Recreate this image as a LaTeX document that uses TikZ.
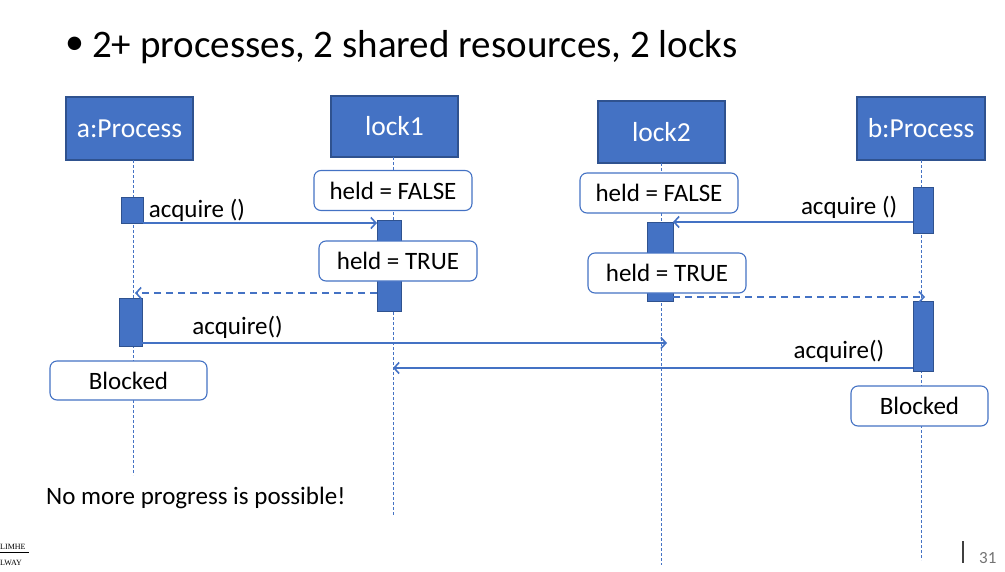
\documentclass[tikz,border=0pt]{standalone}
\usepackage{fontspec}
\setmainfont{Carlito}
\newfontfamily\logofont{Liberation Serif}
\usetikzlibrary{arrows.meta}
\definecolor{bblue}{HTML}{4472C4}
\definecolor{dblue}{HTML}{2F528F}
\begin{document}
\begin{tikzpicture}[x=1pt,y=-1pt,
  head/.style={draw=dblue,fill=bblue,line width=1.2pt,inner sep=0pt,outer sep=0pt,text=white,font=\fontsize{27.5}{32}\selectfont},
  actbox/.style={draw=dblue,fill=bblue,line width=1pt,inner sep=0pt,outer sep=0pt},
  statebox/.style={draw=bblue,fill=white,rounded corners=7pt,line width=1.1pt,inner sep=0pt,outer sep=0pt,minimum width=158pt,minimum height=40pt,font=\fontsize{25}{29}\selectfont},
  lifeline/.style={draw=bblue,line width=1pt,dash pattern=on 3pt off 2pt},
  msg/.style={draw=bblue,line width=1.6pt,-{Straight Barb[length=5pt,width=11pt,line width=1.6pt]}},
  ret/.style={msg,dash pattern=on 7pt off 5pt},
  lbl/.style={font=\fontsize{25}{29}\selectfont,inner sep=0pt}]
\useasboundingbox (0,0) rectangle (1005,571);
% title
\node[anchor=base west,inner sep=0pt,font=\fontsize{39}{44}\selectfont] (title) at (65,57) {\makebox[27pt][l]{\fontsize{38}{38}\selectfont\raisebox{3pt}{\textbullet}}2+ processes, 2 shared resources, 2 locks};
% heads
\node[head,minimum width=127pt,minimum height=63pt] (pa) at (129.5,128.5) {a:Process};
\node[head,minimum width=127pt,minimum height=61pt] (l1) at (394.5,126.5) {lock1};
\node[head,minimum width=127pt,minimum height=62pt] (l2) at (661.5,132) {lock2};
\node[head,minimum width=128pt,minimum height=63pt] (pb) at (921,128.5) {b:Process};
% lifeline ends
\coordinate (ea) at (133,475);
\coordinate (e1) at (393,515);
\coordinate (e2) at (661,565);
\coordinate (eb) at (921,560);
\draw[lifeline] (pa.south -| ea) -- (ea);
\draw[lifeline] (l1.south -| e1) -- (e1);
\draw[lifeline] (l2.south -| e2) -- (e2);
\draw[lifeline] (pb.south -| eb) -- (eb);
% activations
\node[actbox,minimum width=22pt,minimum height=26pt] (a1) at (132,210) {};
\node[actbox,minimum width=24pt,minimum height=91pt] (k1) at (389,265.5) {};
\node[actbox,minimum width=23pt,minimum height=48pt] (a2) at (130.5,322) {};
\node[actbox,minimum width=20pt,minimum height=46pt] (b1) at (923,210) {};
\node[actbox,minimum width=26pt,minimum height=79pt] (k2) at (660,261.5) {};
\node[actbox,minimum width=20pt,minimum height=70pt] (b2) at (923,336) {};
% states
\node[statebox] (s1) at (393,190.5) {held = FALSE};
\node[statebox] (s2) at (398,261) {held = TRUE};
\node[statebox] (s3) at (659,193) {held = FALSE};
\node[statebox] (s4) at (667,273) {held = TRUE};
\node[statebox,minimum width=157pt,minimum height=39pt] (bl1) at (128.5,380.5) {Blocked};
\node[statebox,minimum width=137pt,minimum height=40pt] (bl2) at (919.5,406) {Blocked};
% messages
\coordinate (r1) at (135,293);
\coordinate (m2) at (667,343);
\coordinate (r2) at (925,297);
\coordinate (m4) at (393,368);
\draw[msg] (a1.south east) -- (a1.south east -| k1.west) node[lbl,pos=0,anchor=base west,xshift=5pt,yshift=6pt] (t1) {acquire ()};
\draw[ret] (k1.west |- r1) -- (r1);
\draw[msg] (a2.east |- m2) -- (m2) node[lbl,anchor=base,pos=0.182,yshift=9pt] (t2) {acquire()};
\draw[msg] (b1.west |- 0,222) -- (k2.east |- 0,222) node[lbl,pos=0,anchor=base east,xshift=-15pt,yshift=8pt] (t3) {acquire ()};
\draw[ret] (k2.east |- r2) -- (r2);
\draw[msg] (b2.west |- m4) -- (m4) node[lbl,pos=0,anchor=base east,xshift=-28pt,yshift=10pt] (t4) {acquire()};
% footer text
\node[lbl,anchor=base west] (np) at (46,504) {No more progress is possible!};
\node[anchor=base west,inner sep=0pt,font=\logofont\fontsize{8}{9}\selectfont] (lg1) at (0,549) {LIMHE};
\node[anchor=base west,inner sep=0pt,font=\logofont\fontsize{8}{9}\selectfont] (lg2) at (0,565) {LWAY};
\draw[line width=0.6pt] (lg1.south west) ++(0,3) -- ++(29,0);
\draw[line width=1.5pt,black!75] (963,541) -- (963,563);
\node[anchor=base west,inner sep=0pt,text=black!55,font=\fontsize{17}{20}\selectfont] (pg) at (979,563) {31};
\end{tikzpicture}
\end{document}
